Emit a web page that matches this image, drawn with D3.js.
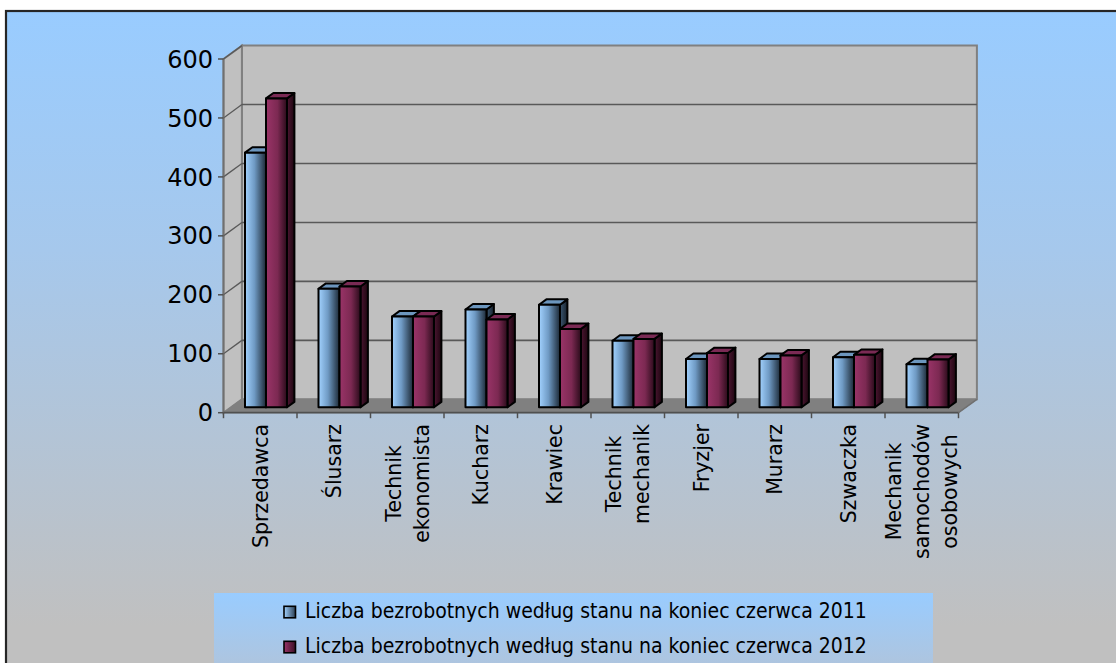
<!DOCTYPE html>
<html>
<head>
<meta charset="utf-8">
<script src="https://cdn.jsdelivr.net/npm/d3@7/dist/d3.min.js"></script>
<style>
    body { margin: 0; background: #fff; }
    svg { display: block; }
</style>
</head>
<body>
<svg id="canvas"></svg>
<script>
// dane
let categories = ["Sprzedawca", "Ślusarz", "Technik\nekonomista", "Kucharz", "Krawiec",
    "Technik\nmechanik", "Fryzjer", "Murarz", "Szwaczka", "Mechanik\nsamochodów\nosobowych"]
let values2011 = [432, 201, 154, 166, 174, 113, 82, 82, 85, 73]
let values2012 = [524, 205, 154, 149, 133, 116, 92, 88, 89, 81]
let seriesNames = ["Liczba bezrobotnych według stanu na koniec czerwca 2011",
    "Liczba bezrobotnych według stanu na koniec czerwca 2012"]
let yTicks = [0, 100, 200, 300, 400, 500, 600]

let width = 1116, height = 663

let svg = d3.select("#canvas")
    .attr("width", width)
    .attr("height", height)

const defs = svg.append("defs")

function linGrad(id, stops, vertical) {
    let g = defs.append("linearGradient").attr("id", id)
        .attr("x1", 0).attr("y1", 0)
        .attr("x2", vertical ? 0 : 1).attr("y2", vertical ? 1 : 0)
    stops.forEach(s => g.append("stop").attr("offset", s[0]).attr("stop-color", s[1]))
    return g
}

linGrad("bgGrad", [[0, "#99ccff"], [0.35, "#a6c8ec"], [0.9, "#c0c0c0"], [1, "#c0c0c0"]], true)
linGrad("legGrad", [[0, "#99ccff"], [1, "#b6c2d2"]], true)
linGrad("front0", [[0, "#a2d2ff"], [0.45, "#6f9ac4"], [1, "#1c2936"]])
linGrad("front1", [[0, "#9a3468"], [0.55, "#7c2952"], [1, "#2a0b1a"]])
linGrad("side0", [[0, "#3b5670"], [1, "#17222d"]])
linGrad("side1", [[0, "#4c1631"], [1, "#1d0610"]])
linGrad("mark0", [[0, "#a2d2ff"], [1, "#2a3d52"]])
linGrad("mark1", [[0, "#9a3468"], [1, "#3a0f24"]])

let topColors = ["#6c96be", "#7a2a54"]

// tło
svg.append("rect")
    .attr("x", 6).attr("y", 11)
    .attr("width", width + 20).attr("height", height + 20)
    .attr("fill", "url(#bgGrad)")
    .attr("stroke", "#262626")
    .attr("stroke-width", 2.2)

// geometria 3D
let x0 = 223.5, x1 = 958.5
let depth = [18.4, -13.4]
let barOff = [7.4, -5.4]
let barDepth = [7.4, -5.4]

let x = d3.scaleBand().domain(d3.range(categories.length)).range([x0, x1])
let y = d3.scaleLinear().domain([0, 600]).range([412.7, 59])
let inner = d3.scaleBand().domain([0, 1]).range([0, 42])

let wallG = svg.append("g")

// ściana tylna
wallG.append("polygon")
    .attr("points", [[x0 + depth[0], y(600) + depth[1]], [x1 + depth[0], y(600) + depth[1]],
        [x1 + depth[0], y(0) + depth[1]], [x0 + depth[0], y(0) + depth[1]]].join(" "))
    .attr("fill", "#c0c0c0")
    .attr("stroke", "#808080")
    .attr("stroke-width", 2)

// ściana boczna
wallG.append("polygon")
    .attr("points", [[x0, y(600)], [x0 + depth[0], y(600) + depth[1]],
        [x0 + depth[0], y(0) + depth[1]], [x0, y(0)]].join(" "))
    .attr("fill", "#c0c0c0")
    .attr("stroke", "#808080")
    .attr("stroke-width", 2)

// podłoga
wallG.append("polygon")
    .attr("points", [[x0, y(0)], [x0 + depth[0], y(0) + depth[1]],
        [x1 + depth[0], y(0) + depth[1]], [x1, y(0)]].join(" "))
    .attr("fill", "#808080")
    .attr("stroke", "#808080")
    .attr("stroke-width", 1)

// linie siatki
let grid = yTicks.filter(t => t > 0 && t < 600)
wallG.selectAll(".gridBack").data(grid).enter().append("line")
    .attr("x1", x0 + depth[0]).attr("x2", x1 + depth[0])
    .attr("y1", d => y(d) + depth[1]).attr("y2", d => y(d) + depth[1])
    .attr("stroke", "#595959").attr("stroke-width", 1.6)
wallG.selectAll(".gridSide").data(yTicks.filter(t => t > 0)).enter().append("line")
    .attr("x1", x0).attr("x2", x0 + depth[0])
    .attr("y1", d => y(d)).attr("y2", d => y(d) + depth[1])
    .attr("stroke", "#595959").attr("stroke-width", 1.3)

// oś Y
svg.append("line")
    .attr("x1", x0).attr("x2", x0).attr("y1", y(600)).attr("y2", y(0))
    .attr("stroke", "#707070").attr("stroke-width", 1.8)
svg.append("line")
    .attr("x1", x0).attr("x2", x1).attr("y1", y(0)).attr("y2", y(0))
    .attr("stroke", "#505050").attr("stroke-width", 1.8)
svg.append("line")
    .attr("x1", x1).attr("x2", x1 + depth[0]).attr("y1", y(0)).attr("y2", y(0) + depth[1])
    .attr("stroke", "#707070").attr("stroke-width", 1.5)

svg.selectAll(".ytick").data(yTicks).enter().append("line")
    .attr("x1", x0 - 5.5).attr("x2", x0)
    .attr("y1", d => y(d)).attr("y2", d => y(d))
    .attr("stroke", "#505050").attr("stroke-width", 1.5)

svg.selectAll(".ylab").data(yTicks).enter().append("text")
    .attr("x", x0 - 10.5)
    .attr("y", d => y(d))
    .attr("dy", "0.36em")
    .attr("text-anchor", "end")
    .attr("font-family", "DejaVu Sans")
    .attr("font-size", 24)
    .attr("fill", "#000")
    .text(d => d)

// znaczniki kategorii
svg.selectAll(".xtick").data(d3.range(categories.length + 1)).enter().append("line")
    .attr("x1", i => x0 + x.bandwidth() * i).attr("x2", i => x0 + x.bandwidth() * i)
    .attr("y1", y(0)).attr("y2", y(0) + 5.5)
    .attr("stroke", "#505050").attr("stroke-width", 1.5)

// słupki
let barsG = svg.append("g")
categories.forEach(function(c, i) {
    let vals = [values2011[i], values2012[i]]
    vals.forEach(function(v, s) {
        let bx = x(i) + 21.5 + inner(s)
        let bw = inner.bandwidth()
        let yb = y(0) + barOff[1]
        let yt = y(v) + barOff[1]
        let dx = barDepth[0], dy = barDepth[1]
        let g = barsG.append("g")
            .attr("stroke", "#000")
            .attr("stroke-width", 2)
            .attr("stroke-linejoin", "round")
        g.append("polygon")
            .attr("points", [[bx + bw, yt], [bx + bw + dx, yt + dy], [bx + bw + dx, yb + dy], [bx + bw, yb]].join(" "))
            .attr("fill", "url(#side" + s + ")")
        g.append("polygon")
            .attr("points", [[bx, yt], [bx + bw, yt], [bx + bw + dx, yt + dy], [bx + dx, yt + dy]].join(" "))
            .attr("fill", topColors[s])
        g.append("rect")
            .attr("x", bx).attr("y", yt)
            .attr("width", bw).attr("height", yb - yt)
            .attr("fill", "url(#front" + s + ")")
    })
})

// etykiety kategorii
let labelTop = 424
let lineH = 28
categories.forEach(function(c, i) {
    let lines = c.split("\n")
    let cx = x(i) + x.bandwidth() / 2
    let t = svg.append("text")
        .attr("font-family", "DejaVu Sans")
        .attr("font-size", 20.5)
        .attr("fill", "#000")
        .attr("text-anchor", "middle")
    lines.forEach(function(l, k) {
        t.append("tspan")
            .attr("x", 0)
            .attr("y", (k - (lines.length - 1) / 2) * lineH)
            .attr("dy", "0.36em")
            .text(l)
    })
    let maxW = d3.max(t.selectAll("tspan").nodes(), n => n.getComputedTextLength())
    t.attr("transform", "translate(" + cx + "," + (labelTop + maxW / 2) + ") rotate(-90)")
})

// legenda
let legX = 214, legY = 593
svg.append("rect")
    .attr("x", legX).attr("y", legY)
    .attr("width", 719).attr("height", 100)
    .attr("fill", "url(#legGrad)")

seriesNames.forEach(function(name, s) {
    let base = 618.3 + s * 35
    svg.append("rect")
        .attr("x", 284).attr("y", base - 12)
        .attr("width", 11.5).attr("height", 11.5)
        .attr("fill", "url(#mark" + s + ")")
        .attr("stroke", "#000")
        .attr("stroke-width", 1.6)
    let t = svg.append("text")
        .attr("x", 305).attr("y", base)
        .attr("font-family", "DejaVu Sans Condensed")
        .attr("font-size", 20)
        .attr("fill", "#000")
        .text(name)
    let w = t.node().getComputedTextLength()
    t.attr("font-size", 20 * 562 / w)
})
</script>
</body>
</html>
